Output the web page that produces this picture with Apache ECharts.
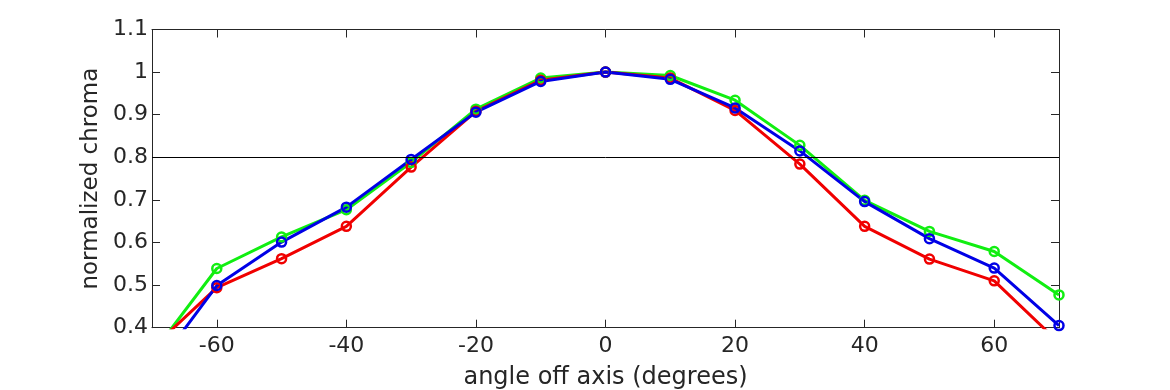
<!DOCTYPE html>
<html>
<head>
<meta charset="utf-8">
<script src="https://cdn.jsdelivr.net/npm/echarts@6/dist/echarts.min.js"></script>
<style>html,body{margin:0;padding:0;background:#fff;}#c{width:1170px;height:390px;}</style>
</head>
<body>
<div id="c"></div>
<script>
const angles = [-70, -60, -50, -40, -30, -20, -10, 0, 10, 20, 30, 40, 50, 60, 70];
const greenVals = [0.338, 0.539, 0.613, 0.677, 0.788, 0.913, 0.986, 1.0, 0.992, 0.934, 0.828, 0.699, 0.626, 0.579, 0.477];
const redVals   = [0.352, 0.494, 0.562, 0.638, 0.777, 0.908, 0.981, 1.0, 0.986, 0.910, 0.784, 0.638, 0.561, 0.510, 0.365];
const blueVals  = [0.294, 0.499, 0.601, 0.683, 0.795, 0.906, 0.978, 1.0, 0.983, 0.916, 0.815, 0.696, 0.609, 0.540, 0.405];
const xTicks = [-60, -40, -20, 0, 20, 40, 60];
const yTicks = [0.4, 0.5, 0.6, 0.7, 0.8, 0.9, 1.0, 1.1];
const refLine = 0.8;

const FONT = 'DejaVu Sans';
const TXT = '#262626';
const AX = '#262626';

function pairs(vals){ return angles.map((a,i)=>[a, vals[i]]); }
function mkSeries(name, color, vals){
  return {
    name, type:'line', data: pairs(vals), clip:true,
    symbol:'circle', symbolSize:9,
    itemStyle:{color:'rgba(0,0,0,0)', borderColor:color, borderWidth:2.5},
    lineStyle:{color:color, width:3},
    emphasis:{disabled:true}, animation:false
  };
}
const xBase = {
  type:'value', min:-70, max:70,
  axisLine:{show:true, onZero:false, lineStyle:{color:AX, width:1}},
  axisTick:{show:true, inside:true, length:8, customValues:xTicks, lineStyle:{color:AX}},
  splitLine:{show:false}
};
const yBase = {
  type:'value', min:0.4, max:1.1, interval:0.1,
  axisLine:{show:true, onZero:false, lineStyle:{color:AX, width:1}},
  axisTick:{show:true, inside:true, length:8, customValues:yTicks, lineStyle:{color:AX}},
  splitLine:{show:false}
};
const chart = echarts.init(document.getElementById('c'));
chart.setOption({
  animation:false,
  grid:{left:152, right:111, top:29.5, bottom:62.3, containLabel:false, outerBoundsMode:'none'},
  xAxis:[
    Object.assign({}, xBase, {
      position:'bottom',
      name:'angle off axis (degrees)', nameLocation:'middle', nameGap:38,
      nameTextStyle:{fontFamily:FONT, fontSize:24, color:TXT},
      axisLabel:{show:true, customValues:xTicks, margin:8, fontFamily:FONT, fontSize:22, color:TXT}
    }),
    Object.assign({}, xBase, {position:'top', axisLabel:{show:false}})
  ],
  yAxis:[
    Object.assign({}, yBase, {
      position:'left',
      name:'normalized chroma', nameLocation:'middle', nameGap:40,
      nameTextStyle:{fontFamily:FONT, fontSize:23, color:TXT},
      axisLabel:{show:true, customValues:yTicks, margin:4, fontFamily:FONT, fontSize:22, color:TXT,
        formatter:v=>String(parseFloat(Number(v).toFixed(1)))}
    }),
    Object.assign({}, yBase, {position:'right', axisLabel:{show:false}})
  ],
  series:[
    mkSeries('green', '#11ee11', greenVals),
    mkSeries('red', '#f00000', redVals),
    Object.assign(mkSeries('blue', '#0000e6', blueVals), {
      markLine:{silent:true, symbol:['none','none'], label:{show:false},
        lineStyle:{color:'#000', width:1, type:'solid'},
        data:[{yAxis:refLine}], animation:false}
    })
  ]
});
</script>
</body>
</html>
